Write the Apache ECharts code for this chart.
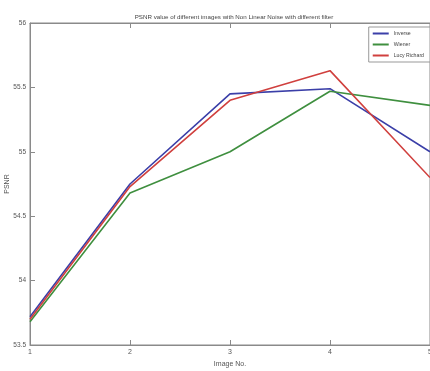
<!DOCTYPE html>
<html>
<head>
<meta charset="utf-8">
<script src="https://cdn.jsdelivr.net/npm/echarts@6/dist/echarts.min.js"></script>
<style>
  html, body { margin: 0; padding: 0; background: #fff; }
  #chart { width: 430px; height: 371px; }
</style>
</head>
<body>
<div id="chart"></div>
<script>
const imageNo = ["1", "2", "3", "4", "5"];
const inverse = [53.72, 54.75, 55.45, 55.49, 55.0];
const wiener = [53.68, 54.68, 55.0, 55.47, 55.36];
const lucyRichard = [53.7, 54.73, 55.4, 55.63, 54.8];
const yTicks = [53.5, 54, 54.5, 55, 55.5, 56];

const chart = echarts.init(document.getElementById("chart"));

const axisGray = "#8a8a8a";
const font = "Liberation Sans";
const labelStyle = { color: "#555", fontSize: 7, fontFamily: font };

const mkSeries = (name, data, color) => ({
	name: name,
	type: "line",
	data: data.map((v, i) => [i + 1, v]),
	showSymbol: false,
	lineStyle: { color: color, width: 1.6 },
	itemStyle: { color: color },
});

chart.setOption({
	animation: false,
	title: {
		text: "PSNR value of different images with Non Linear Noise with different filter",
		left: 229,
		textAlign: "center",
		top: 9,
		textStyle: { color: "#444", fontSize: 6.2, fontWeight: "normal", fontFamily: font },
	},
	grid: {
		left: 30, right: 0, top: 23, bottom: 26,
		outerBoundsMode: "none",
		containLabel: false,
		show: true, borderColor: axisGray, borderWidth: 1,
	},
	legend: {
		orient: "vertical",
		right: 0,
		top: 27,
		itemWidth: 16,
		itemHeight: 2,
		itemGap: 6,
		padding: [4, 6, 4, 4],
		backgroundColor: "#fff",
		borderColor: "#999",
		borderWidth: 1,
		icon: "rect",
		textStyle: { color: "#444", fontSize: 5.2, fontFamily: font },
		data: ["Inverse", "Wiener", "Lucy Richard"],
	},
	xAxis: [
		{
			type: "value",
			min: 1,
			max: 5,
			interval: 1,
			name: "Image No.",
			nameLocation: "middle",
			nameGap: 16,
			nameTextStyle: labelStyle,
			axisLine: { lineStyle: { color: axisGray } },
			axisTick: { inside: true, length: 5, lineStyle: { color: axisGray } },
			axisLabel: { ...labelStyle, margin: 4, formatter: (v) => imageNo[v - 1] },
			splitLine: { show: false },
		},
		{
			type: "value",
			position: "top",
			min: 1,
			max: 5,
			interval: 1,
			axisLine: { lineStyle: { color: axisGray } },
			axisTick: { inside: true, length: 5, lineStyle: { color: axisGray } },
			axisLabel: { show: false },
			splitLine: { show: false },
		},
	],
	yAxis: {
		type: "value",
		min: yTicks[0],
		max: yTicks[yTicks.length - 1],
		interval: 0.5,
		name: "PSNR",
		nameLocation: "middle",
		nameGap: 19,
		nameMoveOverlap: false,
		nameTextStyle: labelStyle,
		axisLine: { show: true, lineStyle: { color: axisGray } },
		axisTick: { show: true, inside: true, length: 5, lineStyle: { color: axisGray } },
		axisLabel: { ...labelStyle, fontSize: 6.5, margin: 4 },
		splitLine: { show: false },
	},
	series: [
		mkSeries("Inverse", inverse, "#3b3fa8"),
		mkSeries("Wiener", wiener, "#3f8f3f"),
		mkSeries("Lucy Richard", lucyRichard, "#d0403e"),
	],
});
</script>
</body>
</html>
